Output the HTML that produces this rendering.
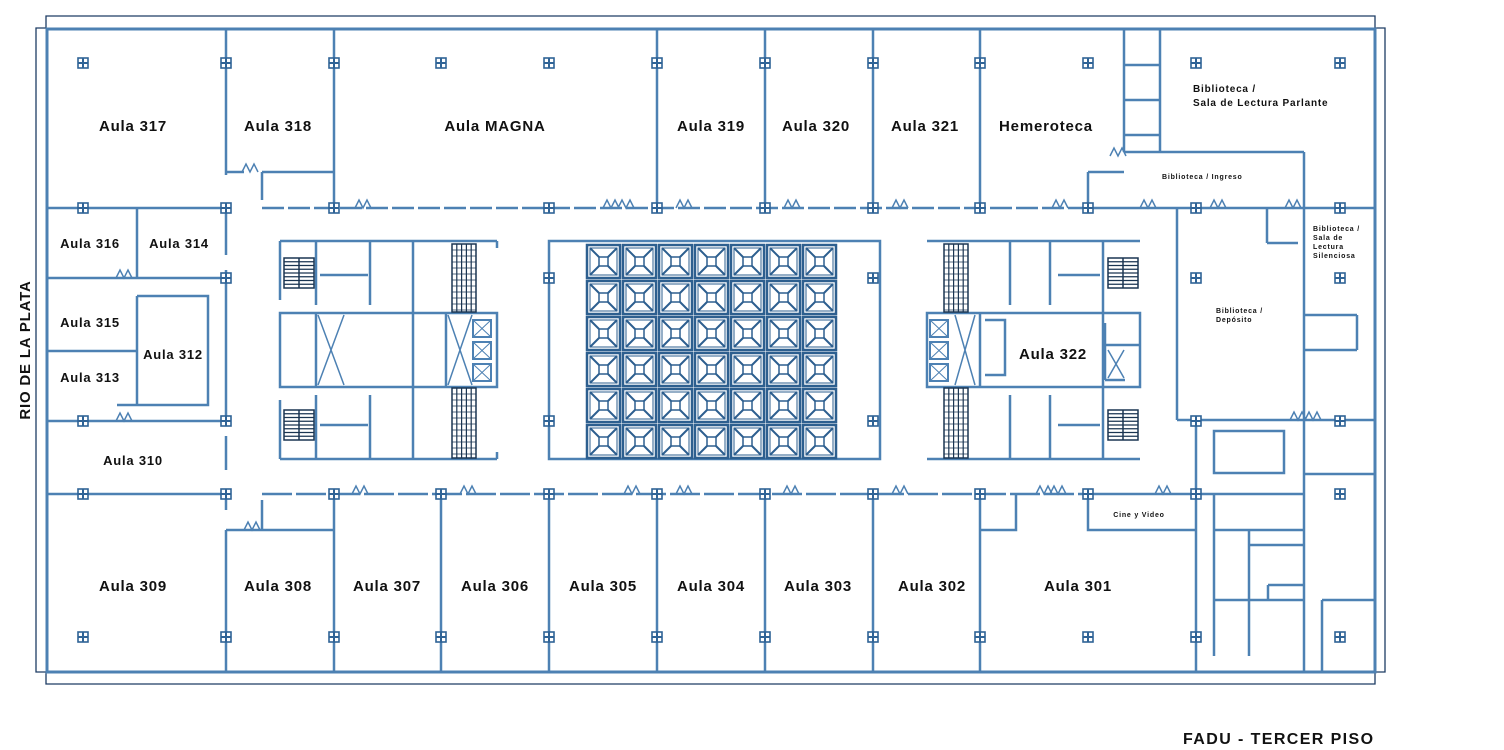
<!DOCTYPE html>
<html><head><meta charset="utf-8"><style>
html,body{margin:0;padding:0;background:#fff;width:1504px;height:750px;overflow:hidden}
svg{display:block}
text{font-family:"Liberation Sans",sans-serif;font-weight:bold;fill:#111;letter-spacing:0.8px}
</style></head><body>
<svg id="s" width="1504" height="750" viewBox="0 0 1504 750" xmlns="http://www.w3.org/2000/svg">
<g id="walls" fill="none" stroke="#4d81b3" stroke-width="2.5">
<polyline points="46,28 46,16 1375,16 1375,28" stroke="#1d3c63" stroke-width="1.3"/>
<polyline points="46,672 46,684 1375,684 1375,672" stroke="#1d3c63" stroke-width="1.3"/>
<polyline points="46,28 36,28 36,672 46,672" stroke="#1d3c63" stroke-width="1.3"/>
<polyline points="1375,28 1385,28 1385,672 1375,672" stroke="#1d3c63" stroke-width="1.3"/>
<rect x="47" y="29" width="1328" height="643" stroke-width="3"/>
<path d="M226,29V175 M334,29V208 M657,29V208 M765,29V208 M873,29V208 M980,29V208 M262,172H334 M226,172H244 M262,172V200"/>
<path d="M262,208H1088" stroke-dasharray="22,4"/>
<path d="M1124,29V152 M1160,29V152 M1124,65H1160 M1124,100H1160 M1124,135H1160 M1124,152H1304 M1304,152V420 M1088,172H1124 M1088,172V208 M1088,208H1304 M1304,208H1375"/>
<path d="M1177,208V420 M1267,208V243 M1267,243H1298 M1304,315H1357 M1357,315V350 M1304,350H1357 M1177,420H1375 M1196,420V490 M1196,420V672 M1214,431H1284V473H1214Z M1304,474H1375 M1196,494H1304 M1304,420V672"/>
<path d="M1214,494V656 M1214,530H1304 M1249,530V656 M1249,545H1304 M1268,585H1304 M1268,585V600 M1214,600H1304 M1322,600H1375 M1322,600V672"/>
<path d="M47,208H226 M137,208V278 M47,278H226 M137,296H208V405H117 M137,296V405 M47,351H137 M47,421H226 M226,208V255 M226,270V421 M226,436V470 M47,494H226 M226,494V510"/>
<path d="M262,494H1088" stroke-dasharray="30,4"/>
<path d="M226,530V672 M226,530H262 M262,530H334 M262,500V530 M334,494V672 M441,494V672 M549,494V672 M657,494V672 M765,494V672 M873,494V672 M980,494V672 M980,530H1016V494 M1088,494V530H1196 M1088,494H1196"/>
<rect x="549" y="241" width="331" height="218"/>
<path d="M280,241H497 M280,459H497 M280,241V300 M280,400V459 M280,313H497V387H280Z M316,313V387 M446,313V387 M370,241V305 M413,241V459 M370,395V459 M316,241V305 M316,395V459 M320,275H368 M320,425H368 M497,241V248 M497,452V459"/>
<path d="M318,315L344,385 M344,315L318,385 M448,315L472,385 M472,315L448,385" stroke-width="1.5"/>
<path d="M927,241H1140 M927,459H1140 M927,313H1140V387H927Z M980,313V387 M1010,241V305 M1010,395V459 M1050,241V305 M1050,395V459 M1103,241V459 M1058,275H1100 M1058,425H1100 M1105,323V380 M1105,345H1140 M1105,380H1125"/>
<path d="M955,315L975,385 M975,315L955,385 M1108,350L1124,378 M1124,350L1108,378" stroke-width="1.5"/>
<path d="M985,320H1005V375H985" />
</g>
<g id="gen"></g>
<text x="133" y="131" font-size="15" text-anchor="middle">Aula 317</text>
<text x="278" y="131" font-size="15" text-anchor="middle">Aula 318</text>
<text x="495" y="131" font-size="15" text-anchor="middle">Aula MAGNA</text>
<text x="711" y="131" font-size="15" text-anchor="middle">Aula 319</text>
<text x="816" y="131" font-size="15" text-anchor="middle">Aula 320</text>
<text x="925" y="131" font-size="15" text-anchor="middle">Aula 321</text>
<text x="1046" y="131" font-size="15" text-anchor="middle">Hemeroteca</text>
<text x="1193" y="92" font-size="10">Biblioteca /</text>
<text x="1193" y="106" font-size="10">Sala de Lectura Parlante</text>
<text x="1162" y="179" font-size="7">Biblioteca / Ingreso</text>
<text x="1313" y="231" font-size="7">Biblioteca /</text>
<text x="1313" y="240" font-size="7">Sala de</text>
<text x="1313" y="249" font-size="7">Lectura</text>
<text x="1313" y="258" font-size="7">Silenciosa</text>
<text x="1216" y="313" font-size="7">Biblioteca /</text>
<text x="1216" y="322" font-size="7">Depósito</text>
<text x="90" y="248" font-size="13" text-anchor="middle">Aula 316</text>
<text x="179" y="248" font-size="13" text-anchor="middle">Aula 314</text>
<text x="90" y="327" font-size="13" text-anchor="middle">Aula 315</text>
<text x="173" y="359" font-size="13" text-anchor="middle">Aula 312</text>
<text x="90" y="382" font-size="13" text-anchor="middle">Aula 313</text>
<text x="133" y="465" font-size="13" text-anchor="middle">Aula 310</text>
<text x="1053" y="359" font-size="15" text-anchor="middle">Aula 322</text>
<text x="1139" y="517" font-size="7" text-anchor="middle">Cine y Video</text>
<text x="133" y="591" font-size="15" text-anchor="middle">Aula 309</text>
<text x="278" y="591" font-size="15" text-anchor="middle">Aula 308</text>
<text x="387" y="591" font-size="15" text-anchor="middle">Aula 307</text>
<text x="495" y="591" font-size="15" text-anchor="middle">Aula 306</text>
<text x="603" y="591" font-size="15" text-anchor="middle">Aula 305</text>
<text x="711" y="591" font-size="15" text-anchor="middle">Aula 304</text>
<text x="818" y="591" font-size="15" text-anchor="middle">Aula 303</text>
<text x="932" y="591" font-size="15" text-anchor="middle">Aula 302</text>
<text x="1078" y="591" font-size="15" text-anchor="middle">Aula 301</text>
<text x="30" y="350" font-size="15" text-anchor="middle" transform="rotate(-90 30 350)">RIO DE LA PLATA</text>
<text x="1183" y="744" font-size="16" fill="#0e1b2e" style="letter-spacing:1.4px">FADU - TERCER PISO</text>
</svg>
<script>
var g=document.getElementById('gen'),h='';
var xs=[83,226,334,441,549,657,765,873,980,1088,1196,1340];
function mk(x,y){h+='<rect x="'+(x-5)+'" y="'+(y-5)+'" width="10" height="10" fill="#fff" stroke="#2f6396" stroke-width="1.6"/><path d="M'+x+','+(y-5)+'V'+(y+5)+'M'+(x-5)+','+y+'H'+(x+5)+'" stroke="#2f6396" stroke-width="2"/>';}
var rows={63:xs,208:[83,226,334,549,657,765,873,980,1088,1196,1340],494:[83,226,334,441,549,657,765,873,980,1088,1196,1340],637:xs};
for(var y in rows)rows[y].forEach(function(x){mk(x,+y)});
[[226,278],[83,421],[226,421],[1196,278],[1340,278],[1196,421],[1340,421],[549,278],[873,278],[549,421],[873,421]].forEach(function(p){mk(p[0],p[1])});
for(var r=0;r<6;r++)for(var c=0;c<7;c++){var x=587+c*36,y=245+r*36,s=33;
h+='<rect x="'+x+'" y="'+y+'" width="'+s+'" height="'+s+'" fill="none" stroke="#2d5f8f" stroke-width="2.5"/>';
h+='<rect x="'+(x+12)+'" y="'+(y+12)+'" width="9" height="9" fill="none" stroke="#2d5f8f" stroke-width="1.5"/>';
h+='<path d="M'+(x+3)+','+(y+3)+'L'+(x+12)+','+(y+12)+'M'+(x+30)+','+(y+3)+'L'+(x+21)+','+(y+12)+'M'+(x+3)+','+(y+30)+'L'+(x+12)+','+(y+21)+'M'+(x+30)+','+(y+30)+'L'+(x+21)+','+(y+21)+'" stroke="#2d5f8f" stroke-width="2"/>';
h+='<rect x="'+(x+3)+'" y="'+(y+3)+'" width="27" height="27" fill="none" stroke="#2d5f8f" stroke-width="1"/>';}
function st(x,y,w,hh,n){h+='<rect x="'+x+'" y="'+y+'" width="'+w+'" height="'+hh+'" fill="none" stroke="#1a3552" stroke-width="1.5"/>';for(var i=1;i<n;i++){var yy=y+i*hh/n;h+='<path d="M'+x+','+yy+'H'+(x+w)+'" stroke="#1a3552" stroke-width="1.2"/>';}h+='<path d="M'+(x+w/2)+','+y+'V'+(y+hh)+'" stroke="#1a3552" stroke-width="1.5"/>';}
st(284,258,30,30,8);st(284,410,30,30,8);st(1108,258,30,30,8);st(1108,410,30,30,8);
function vs(x,y,w,hh){h+='<rect x="'+x+'" y="'+y+'" width="'+w+'" height="'+hh+'" fill="none" stroke="#1a3552" stroke-width="1.5"/>';for(var i=1;i<5;i++){var xx=x+i*w/5;h+='<path d="M'+xx+','+y+'V'+(y+hh)+'" stroke="#1a3552" stroke-width="1.2"/>';}for(var j=1;j<hh/6;j++){var yy=y+j*6;h+='<path d="M'+x+','+yy+'H'+(x+w)+'" stroke="#1a3552" stroke-width="0.8"/>';}}
vs(452,244,24,68);vs(452,388,24,70);vs(944,244,24,68);vs(944,388,24,70);
[[473,320],[473,342],[473,364],[930,320],[930,342],[930,364]].forEach(function(p){h+='<rect x="'+p[0]+'" y="'+p[1]+'" width="18" height="17" fill="none" stroke="#4d81b3" stroke-width="2"/><path d="M'+p[0]+','+p[1]+'L'+(p[0]+18)+','+(p[1]+17)+'M'+(p[0]+18)+','+p[1]+'L'+p[0]+','+(p[1]+17)+'" stroke="#4d81b3" stroke-width="1"/>';});
function dz(x,y){h+='<path d="M'+x+','+y+'l4,-8l4,8l4,-8l4,8" fill="none" stroke="#4d81b3" stroke-width="1.5"/>';}
[[355,208],[603,208],[618,208],[676,208],[784,208],[892,208],[1052,208],[1110,156],[1140,208],[1210,208],[1285,208],[242,172],[352,494],[460,494],[624,494],[676,494],[783,494],[892,494],[1036,494],[1050,494],[1155,494],[244,530],[116,278],[116,421],[1290,420],[1305,420]].forEach(function(p){dz(p[0],p[1])});
g.innerHTML=h;
</script>
</body></html>
